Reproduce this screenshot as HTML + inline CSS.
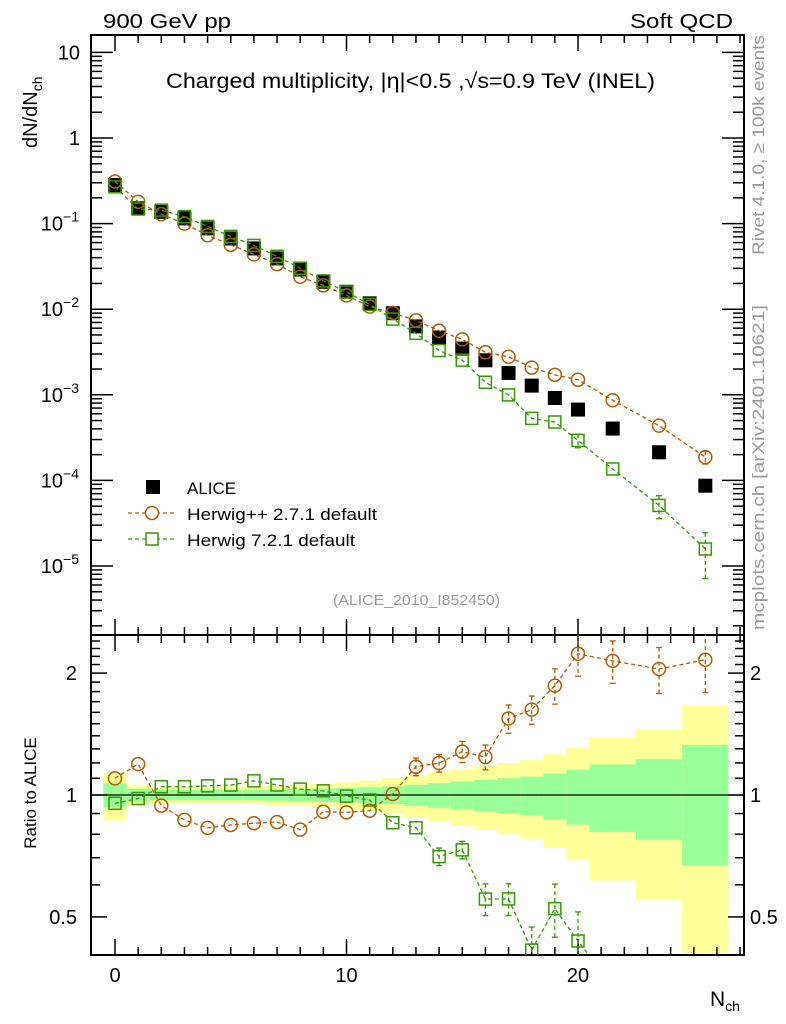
<!DOCTYPE html>
<html><head><meta charset="utf-8"><style>
html,body{margin:0;padding:0;background:#fff;width:786px;height:1024px;overflow:hidden;}
svg{display:block;font-family:"Liberation Sans",sans-serif;}
</style></head><body>
<svg id="chart" width="786" height="1024" viewBox="0 0 786 1024">
<defs>
<clipPath id="clipMain"><rect x="91" y="35" width="653" height="600"/></clipPath>
<clipPath id="clipRatio"><rect x="91" y="635" width="653" height="320"/></clipPath>
</defs>
<g id="bands"></g>
<g id="axes"></g>
<g id="series"></g>
<text x="103" y="28" font-size="20" textLength="128" lengthAdjust="spacingAndGlyphs">900 GeV pp</text>
<text x="630" y="28" font-size="20" textLength="103" lengthAdjust="spacingAndGlyphs">Soft QCD</text>
<text x="166" y="88" font-size="21" textLength="489" lengthAdjust="spacingAndGlyphs">Charged multiplicity, |η|&lt;0.5 ,√s=0.9 TeV (INEL)</text>
<text x="333" y="605" font-size="15" fill="#999" textLength="167" lengthAdjust="spacingAndGlyphs">(ALICE_2010_I852450)</text>
<text transform="translate(764,255) rotate(-90)" font-size="17" fill="#999" textLength="220" lengthAdjust="spacingAndGlyphs">Rivet 4.1.0, ≥ 100k events</text>
<text transform="translate(764,630) rotate(-90)" font-size="17" fill="#999" textLength="325" lengthAdjust="spacingAndGlyphs">mcplots.cern.ch [arXiv:2401.10621]</text>
<text transform="translate(37,148) rotate(-90)" font-size="20">dN/dN<tspan font-size="14" dy="5">ch</tspan></text>
<text transform="translate(36,793) rotate(-90)" font-size="17" text-anchor="middle">Ratio to ALICE</text>
<text x="710" y="1006" font-size="21">N<tspan font-size="14" dy="5">ch</tspan></text>
<g>
<rect x="146" y="480" width="14" height="14" fill="#000"/>
<text x="187" y="494" font-size="17">ALICE</text>
<line x1="128" y1="513" x2="174" y2="513" stroke="#b35900" stroke-dasharray="4,3" stroke-width="1.3"/>
<circle cx="152" cy="513" r="6.5" fill="#fff" stroke="#b35900" stroke-width="1.5"/>
<text x="187" y="520" font-size="17" textLength="190" lengthAdjust="spacingAndGlyphs">Herwig++ 2.7.1 default</text>
<line x1="128" y1="539" x2="174" y2="539" stroke="#339900" stroke-dasharray="4,3" stroke-width="1.3"/>
<rect x="146" y="533" width="12" height="12" fill="#fff" stroke="#339900" stroke-width="1.5"/>
<text x="187" y="546" font-size="17" textLength="168" lengthAdjust="spacingAndGlyphs">Herwig 7.2.1 default</text>
</g>
</svg>
<script>
const nch = [0,1,2,3,4,5,6,7,8,9,10,11,12,13,14,15,16,17,18,19,20,21.5,23.5,25.5];
const binLo = [-0.5,0.5,1.5,2.5,3.5,4.5,5.5,6.5,7.5,8.5,9.5,10.5,11.5,12.5,13.5,14.5,15.5,16.5,17.5,18.5,19.5,20.5,22.5,24.5];
const binHi = [0.5,1.5,2.5,3.5,4.5,5.5,6.5,7.5,8.5,9.5,10.5,11.5,12.5,13.5,14.5,15.5,16.5,17.5,18.5,19.5,20.5,22.5,24.5,26.5];
const alice = [0.282,0.151,0.137,0.115,0.088,0.067,0.0513,0.0392,0.0291,0.0209,0.016,0.0117,0.00898,0.0063,0.00467,0.00347,0.00253,0.0018,0.00128,0.000918,0.000672,0.000403,0.000213,0.0000867];
const aliceTotErr = [0.136,0.06,0.045,0.045,0.045,0.05,0.05,0.055,0.06,0.065,0.075,0.085,0.10,0.12,0.14,0.16,0.18,0.20,0.22,0.26,0.31,0.385,0.45,0.66];
const aliceStatErr = [0.068,0.036,0.03,0.03,0.03,0.03,0.03,0.032,0.035,0.038,0.04,0.045,0.05,0.06,0.07,0.08,0.09,0.10,0.11,0.13,0.155,0.19,0.225,0.33];
const herwigpp = [0.310,0.180,0.129,0.0998,0.0730,0.0565,0.0437,0.0336,0.0239,0.0190,0.0145,0.0107,0.00903,0.00740,0.00560,0.00444,0.00314,0.00278,0.00208,0.00171,0.00150,0.000864,0.000436,0.000187];
const herwigppErr = [0.01,0.01,0.01,0.01,0.01,0.01,0.01,0.01,0.01,0.01,0.01,0.02,0.03,0.05,0.05,0.06,0.07,0.08,0.08,0.10,0.12,0.12,0.13,0.17];
const herwig7 = [0.269,0.148,0.1436,0.1205,0.0927,0.0709,0.0556,0.0415,0.0301,0.0214,0.0159,0.01137,0.00767,0.00523,0.00329,0.00254,0.00140,0.000997,0.00053,0.000481,0.000293,0.000136,0.000051,0.0000158];
const herwig7Err = [0.01,0.01,0.01,0.01,0.01,0.01,0.01,0.01,0.01,0.01,0.01,0.015,0.02,0.03,0.05,0.05,0.09,0.09,0.14,0.15,0.18,0.15,0.3,0.55];
const mainTicks = [10,1,0.1,0.01,0.001,0.0001,0.00001];
const mainTickLabels = ["10","1","10^-1","10^-2","10^-3","10^-4","10^-5"];
const ratioTicks = [0.5,1,2];
const ratioTickLabels = ["0.5","1","2"];
const xTicks = [0,10,20];

const NS="http://www.w3.org/2000/svg";
const L=91,R=744,T=35,M=635,B=955;
const X=v=>115+(v)*23.15;
const YM=v=>138-85.6*Math.log10(v);
const YR=v=>795-405*Math.log10(v);
function mk(parent,tag,attrs){const e=document.createElementNS(NS,tag);for(const k in attrs)e.setAttribute(k,attrs[k]);parent.appendChild(e);return e;}
const bands=document.getElementById('bands'),axes=document.getElementById('axes'),series=document.getElementById('series');

for(let i=0;i<nch.length;i++){
  const x1=X(binLo[i]),x2=Math.min(X(binHi[i]),R);
  const yt=YR(1+aliceTotErr[i]),yb=Math.min(YR(Math.max(1-aliceTotErr[i],0.01)),B);
  const y=mk(bands,'rect',{x:x1,y:yt,width:x2-x1,height:yb-yt,fill:'#ffff99'});
  
  
  const gt=YR(1+aliceStatErr[i]),gb=YR(1-aliceStatErr[i]);
  const g=mk(bands,'rect',{x:x1,y:gt,width:x2-x1,height:gb-gt,fill:'#99ff99'});
  
  
}
mk(axes,'line',{x1:L,y1:795,x2:R,y2:795,stroke:'#000','stroke-width':1.3});

mk(axes,'rect',{x:L,y:T,width:R-L,height:M-T,fill:'none',stroke:'#000','stroke-width':2});
mk(axes,'rect',{x:L,y:M,width:R-L,height:B-M,fill:'none',stroke:'#000','stroke-width':2});
for(let v=0;v<=27;v++){
  const x=X(v); if(x>R-1)continue;
  const major=xTicks.includes(v);
  const len=major?16:8;
  [[T,1],[M,-1],[M,1],[B,-1]].forEach(([y0,d])=>mk(axes,'line',{x1:x,y1:y0,x2:x,y2:y0+d*len,stroke:'#000','stroke-width':1.5}));
}
xTicks.forEach(v=>{const t=mk(axes,'text',{x:X(v),y:982,'font-size':20,'text-anchor':'middle'});t.textContent=String(v);

});
for(let e=-6;e<=1;e++){
  for(let m=1;m<=9;m++){
    const v=m*Math.pow(10,e),y=YM(v); if(y<T+1||y>M-1)continue;
    const len=m===1?22:11;
    mk(axes,'line',{x1:L,y1:y,x2:L+len,y2:y,stroke:'#000','stroke-width':1.5});
    mk(axes,'line',{x1:R,y1:y,x2:R-len,y2:y,stroke:'#000','stroke-width':1.5});
  }
}
mainTicks.forEach((v,i)=>{
  const lab=mainTickLabels[i],y=YM(v);
  const t=mk(axes,'text',{x:80,y:y+7,'font-size':20,'text-anchor':'end'});
  
  
  if(lab.includes('^')){const [b,ex]=lab.split('^');t.textContent=b;const s=document.createElementNS(NS,'tspan');s.setAttribute('font-size','14');s.setAttribute('dy','-9');s.textContent=ex.replace('-','−');t.appendChild(s);t.setAttribute('x',79);}
  else t.textContent=lab;
});
[0.5,0.6,0.7,0.8,0.9,1,1.1,1.2,1.3,1.4,1.5,1.6,1.7,1.8,1.9,2,2.1,2.2,2.3,2.4].forEach(v=>{
  const y=YR(v); if(y<M+1||y>B-1)return;
  const len=ratioTicks.includes(v)?16:9;
  mk(axes,'line',{x1:L,y1:y,x2:L+len,y2:y,stroke:'#000','stroke-width':1.5});
  mk(axes,'line',{x1:R,y1:y,x2:R-len,y2:y,stroke:'#000','stroke-width':1.5});
});
ratioTicks.forEach((v,i)=>{
  const a=mk(axes,'text',{x:77,y:YR(v)+7,'font-size':20,'text-anchor':'end'});a.textContent=ratioTickLabels[i];
  
  
  const b=mk(axes,'text',{x:750,y:YR(v)+7,'font-size':20});b.textContent=ratioTickLabels[i];
  
  
});

alice.forEach((v,i)=>{
  const r=mk(series,'rect',{x:X(nch[i])-7,y:YM(v)-7,width:14,height:14,fill:'#000'});
  
  
});
function drawMC(vals,errs,color,shape,name){
  const gm=mk(series,'g',{'clip-path':'url(#clipMain)'});
  const gr=mk(series,'g',{'clip-path':'url(#clipRatio)'});
  const pm=vals.map((v,i)=>X(nch[i])+','+YM(v)).join(' ');
  mk(gm,'polyline',{points:pm,fill:'none',stroke:color,'stroke-width':1.3,'stroke-dasharray':'4,3'});
  const pr=vals.map((v,i)=>X(nch[i])+','+YR(v/alice[i])).join(' ');
  mk(gr,'polyline',{points:pr,fill:'none',stroke:color,'stroke-width':1.3,'stroke-dasharray':'4,3'});
  vals.forEach((v,i)=>{
    const x=X(nch[i]);
    [[gm,YM,v],[gr,YR,v/alice[i]]].forEach(([g,F,val])=>{
      const e=errs[i];
      const y1=F(val*(1+e)),y2=F(Math.max(val*(1-e),1e-9));
      if(y2-y1>12){
        mk(g,'line',{x1:x,y1:y1,x2:x,y2:y2,stroke:color,'stroke-width':1.3,'stroke-dasharray':'4,3'});
        mk(g,'line',{x1:x-3,y1:y1,x2:x+3,y2:y1,stroke:color,'stroke-width':1.3});
        mk(g,'line',{x1:x-3,y1:y2,x2:x+3,y2:y2,stroke:color,'stroke-width':1.3});
      }
      const y=F(val);
      let m;
      if(shape==='circle') m=mk(g,'circle',{cx:x,cy:y,r:6.5,fill:'none',stroke:color,'stroke-width':1.5});
      else m=mk(g,'rect',{x:x-6,y:y-6,width:12,height:12,fill:'none',stroke:color,'stroke-width':1.5});
      
      
    });
  });
}
drawMC(herwigpp,herwigppErr,'#b35900','circle','herwigpp-point');
drawMC(herwig7,herwig7Err,'#339900','square','herwig7-point');
</script>
</body></html>
